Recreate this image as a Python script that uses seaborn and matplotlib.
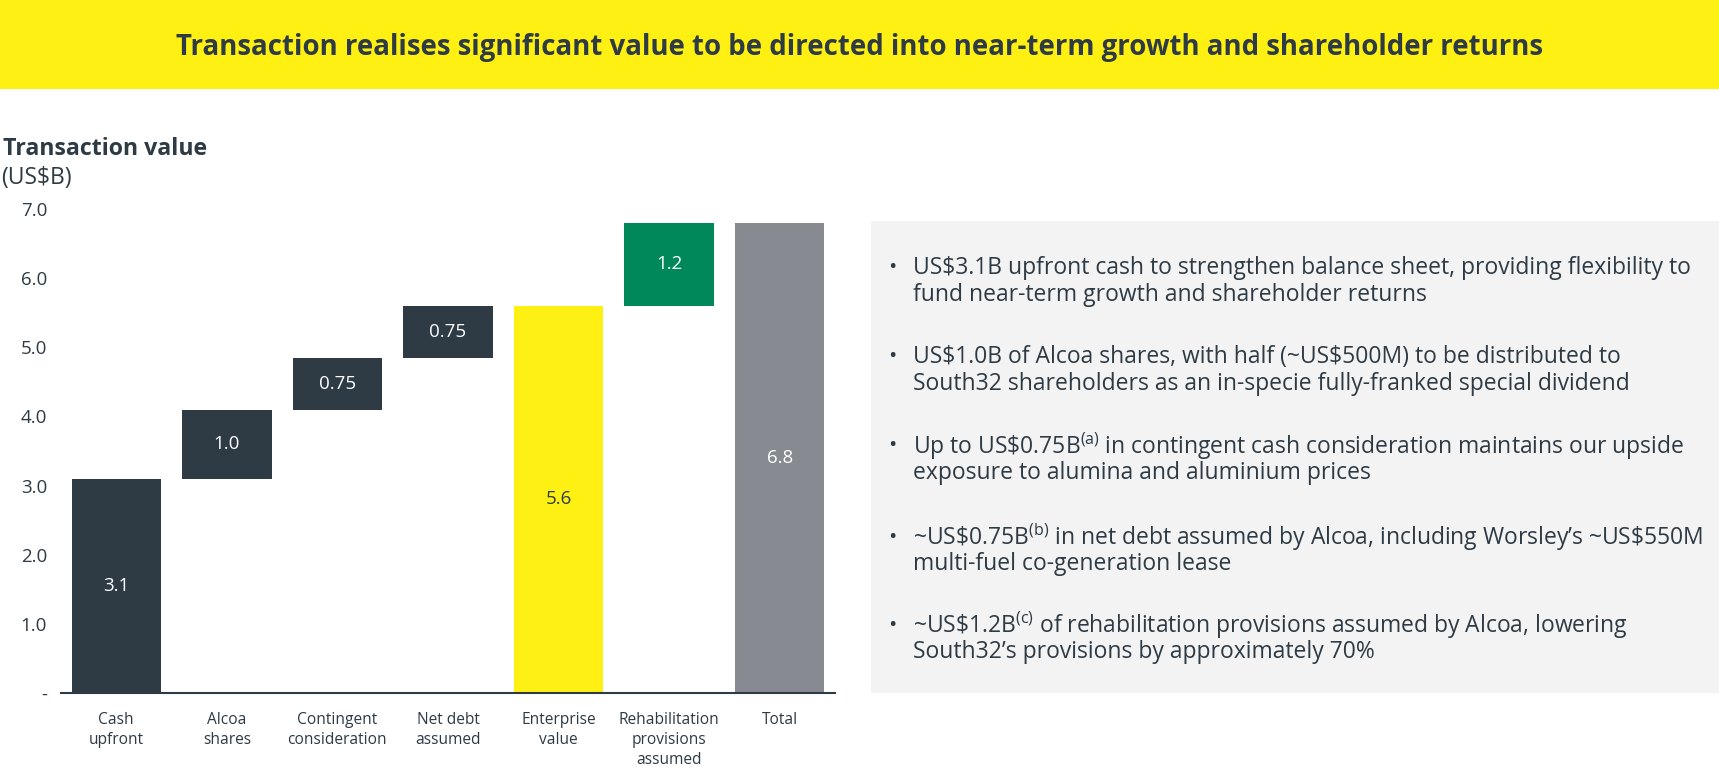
import pandas as pd
import seaborn as sns
import matplotlib.pyplot as plt
from matplotlib.patches import Rectangle

# chart data
categories = ["Cash\nupfront", "Alcoa\nshares", "Contingent\nconsideration", "Net debt\nassumed",
              "Enterprise\nvalue", "Rehabilitation\nprovisions\nassumed", "Total"]
values = [3.1, 1.0, 0.75, 0.75, 5.6, 1.2, 6.8]
value_labels = ["3.1", "1.0", "0.75", "0.75", "5.6", "1.2", "6.8"]
is_total = [False, False, False, False, True, False, True]

y_ticks = [0, 1, 2, 3, 4, 5, 6, 7]
y_tick_labels = ["-", "1.0", "2.0", "3.0", "4.0", "5.0", "6.0", "7.0"]

bullets = [
    ["US\\$3.1B upfront cash to strengthen balance sheet, providing flexibility to",
     "fund near-term growth and shareholder returns"],
    ["US\\$1.0B of Alcoa shares, with half (~US\\$500M) to be distributed to",
     "South32 shareholders as an in-specie fully-franked special dividend"],
    ["Up to US\\$0.75B$^{\\mathrm{(a)}}$ in contingent cash consideration maintains our upside",
     "exposure to alumina and aluminium prices"],
    ["~US\\$0.75B$^{\\mathrm{(b)}}$ in net debt assumed by Alcoa, including Worsley\u2019s ~US\\$550M",
     "multi-fuel co-generation lease"],
    ["~US\\$1.2B$^{\\mathrm{(c)}}$ of rehabilitation provisions assumed by Alcoa, lowering",
     "South32\u2019s provisions by approximately 70%"],
]

title = "Transaction realises significant value to be directed into near-term growth and shareholder returns"

DARK = "#2E3A44"
YELLOW = "#FEF012"
GREEN = "#00875A"
GREY = "#878A91"
PANEL = "#F3F3F3"

bar_colors = [DARK, DARK, DARK, DARK, YELLOW, GREEN, GREY]
label_colors = ["white", "white", "white", "white", DARK, "white", "white"]

sns.set_theme(style="white")
plt.rcParams['font.family'] = ['Open Sans', 'DejaVu Sans']
plt.rcParams['mathtext.fontset'] = 'custom'
plt.rcParams['mathtext.rm'] = 'Open Sans'
plt.rcParams['mathtext.it'] = 'Open Sans'
plt.rcParams['mathtext.bf'] = 'Open Sans:bold'

# waterfall bases
bottoms = []
running = 0.0
for v, tot in zip(values, is_total):
    if tot:
        bottoms.append(0.0)
        running = v
    else:
        bottoms.append(running)
        running += v

df = pd.DataFrame({"category": categories, "value": values})

W, H = 1719, 767
fig = plt.figure(figsize=(W / 100, H / 100), dpi=100)

# header banner
fig.patches.append(Rectangle((0, 1 - 89 / H), 1, 89 / H, transform=fig.transFigure,
                             facecolor=YELLOW, edgecolor="none", zorder=0))
fig.text(0.5, 1 - 48 / H, title, ha="center", va="center", fontsize=19.9,
         fontweight="bold", color=DARK)

fig.text(3 / W, 1 - 149 / H, "Transaction value", ha="left", va="center",
         fontsize=16.7, fontweight="bold", color=DARK)
fig.text(1 / W, 1 - 178 / H, "(US$B)", ha="left", va="center", fontsize=16.5, color=DARK)

ax = fig.add_axes([61 / W, 74 / H, 774 / W, 484 / H])
sns.barplot(data=df, x="category", y="value", bottom=bottoms, color=DARK, width=0.81,
            errorbar=None, linewidth=0, saturation=1, ax=ax)
for patch, c in zip(ax.patches, bar_colors):
    patch.set_facecolor(c)

texts = ax.bar_label(ax.containers[0], labels=value_labels, label_type="center", fontsize=13.5)
for t, c in zip(texts, label_colors):
    t.set_color(c)

ax.set_ylim(0, 7)
ax.set_xlim(-0.5, 6.5)
ax.set_yticks(y_ticks)
ax.set_yticklabels(y_tick_labels)
ax.set_xlabel("")
ax.set_ylabel("")
ax.tick_params(axis="both", length=0, labelsize=13.5, labelcolor=DARK)
ax.tick_params(axis="y", pad=10)
ax.tick_params(axis="x", pad=14)
for lbl in ax.get_xticklabels():
    lbl.set_linespacing(1.32)
    lbl.set_fontsize(11.2)
for side in ["left", "top", "right"]:
    ax.spines[side].set_visible(False)
ax.spines["bottom"].set_color(DARK)
ax.spines["bottom"].set_linewidth(1.5)
ax.set_facecolor("none")

# commentary panel
fig.patches.append(Rectangle((871 / W, 74 / H), (W - 871) / W, (693 - 221) / H,
                             transform=fig.transFigure, facecolor=PANEL, edgecolor="none", zorder=0))
first_lines = [268, 357, 446, 537, 625]
for y0, lines in zip(first_lines, bullets):
    fig.text(888 / W, 1 - y0 / H, "\u2022", ha="left", va="center", fontsize=16, color=DARK)
    for i, line in enumerate(lines):
        fig.text(913 / W, 1 - (y0 + 27 * i) / H, line, ha="left", va="center",
                 fontsize=16.5, color=DARK)

fig.savefig("out.png", dpi=100)
